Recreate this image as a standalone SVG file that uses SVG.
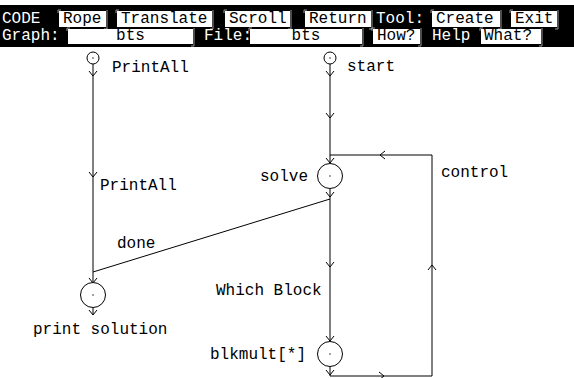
<svg xmlns="http://www.w3.org/2000/svg" xmlns:xlink="http://www.w3.org/1999/xlink" width="574" height="378" viewBox="0 0 574 378">
  <style>
    text { font-family: "Liberation Mono", "DejaVu Sans Mono", monospace; font-size: 16px; }
    .inv { fill: #fff; }
    .ink { fill: #000; }
    .btn { fill: #fff; }
    .brk { fill: none; stroke: #9a9a9a; stroke-width: 1; }
    .edge { fill: none; stroke: #000; stroke-width: 1; }
    .node { fill: #fff; stroke: #000; stroke-width: 1; }
    .dot { fill: #000; }
  </style>
  <defs>
    <!-- open chevron arrowhead, tip at origin, pointing down (+y) -->
    <path id="chev" d="M-4,-5 L0,0 L4,-5" fill="none" stroke="#000" stroke-width="1"/>
  </defs>

  <rect x="0" y="0" width="574" height="378" fill="#fff"/>

  <!-- menu bar -->
  <g id="menubar">
    <rect x="0" y="5" width="574" height="42" fill="#000"/>
    <!-- row 1 -->
    <text class="inv" x="2" y="23">CODE</text>
    <rect class="btn" x="59" y="11" width="47" height="16"/>
    <path class="brk" d="M58,13 V10 H61 M107,10 V29 H104"/>
    <text class="ink" x="63" y="23">Rope</text>
    <rect class="btn" x="117" y="11" width="95" height="16"/>
    <path class="brk" d="M116,13 V10 H119 M213,10 V29 H210"/>
    <text class="ink" x="121" y="23">Translate</text>
    <rect class="btn" x="225" y="11" width="65" height="16"/>
    <path class="brk" d="M224,13 V10 H227 M291,10 V29 H288"/>
    <text class="ink" x="229" y="23">Scroll</text>
    <rect class="btn" x="305" y="11" width="66" height="16"/>
    <path class="brk" d="M304,13 V10 H307 M372,10 V29 H369"/>
    <text class="ink" x="309" y="23">Return</text>
    <text class="inv" x="376" y="23">Tool:</text>
    <rect class="btn" x="432" y="11" width="68" height="16"/>
    <path class="brk" d="M431,13 V10 H434 M501,10 V29 H498"/>
    <text class="ink" x="436" y="23">Create</text>
    <rect class="btn" x="511" y="11" width="46" height="16"/>
    <path class="brk" d="M510,13 V10 H513 M558,10 V29 H555"/>
    <text class="ink" x="515" y="23">Exit</text>
    <!-- row 2 -->
    <text class="inv" x="2" y="40">Graph:</text>
    <rect class="btn" x="68" y="29" width="125" height="15"/>
    <path class="brk" d="M67,31 V28 H70 M194,28 V46 H191"/>
    <text class="ink" x="130.5" y="40" text-anchor="middle">bts</text>
    <text class="inv" x="204" y="40">File:</text>
    <rect class="btn" x="250" y="29" width="112" height="15"/>
    <path class="brk" d="M249,31 V28 H252 M363,28 V46 H360"/>
    <text class="ink" x="306" y="40" text-anchor="middle">bts</text>
    <rect class="btn" x="373" y="29" width="47" height="15"/>
    <path class="brk" d="M372,31 V28 H375 M421,28 V46 H418"/>
    <text class="ink" x="377" y="40">How?</text>
    <text class="inv" x="432" y="40">Help</text>
    <rect class="btn" x="481" y="29" width="60" height="15"/>
    <path class="brk" d="M480,31 V28 H483 M542,28 V46 H539"/>
    <text class="ink" x="484" y="40">What?</text>
  </g>

  <!-- connectors -->
  <g id="connectors">
    <!-- PrintAll entry to print solution -->
    <path class="edge" d="M93,64 V283"/>
    <use xlink:href="#chev" transform="translate(93,76)"/>
    <use xlink:href="#chev" transform="translate(93,177)"/>
    <use xlink:href="#chev" transform="translate(93,283)"/>
    <text class="ink" x="100" y="190">PrintAll</text>
    <!-- print solution exit -->
    <path class="edge" d="M93,308 V315"/>
    <use xlink:href="#chev" transform="translate(93,315)"/>

    <!-- start to solve -->
    <path class="edge" d="M330,64 V163"/>
    <use xlink:href="#chev" transform="translate(330,76)"/>
    <use xlink:href="#chev" transform="translate(330,118)"/>
    <use xlink:href="#chev" transform="translate(330,163)"/>

    <!-- solve to blkmult (Which Block) -->
    <path class="edge" d="M330,189 V341"/>
    <use xlink:href="#chev" transform="translate(330,197)"/>
    <use xlink:href="#chev" transform="translate(330,267)"/>
    <use xlink:href="#chev" transform="translate(330,341)"/>
    <text class="ink" x="216" y="295">Which Block</text>

    <!-- done: solve to print solution -->
    <path class="edge" d="M330,199 L93,272"/>
    <text class="ink" x="117" y="248">done</text>

    <!-- control loop: blkmult back to solve -->
    <path class="edge" d="M330,367 V376 H432 V155 H330"/>
    <use xlink:href="#chev" transform="translate(330,375)"/>
    <use xlink:href="#chev" transform="translate(384,376) rotate(-90)"/>
    <use xlink:href="#chev" transform="translate(432,265) rotate(180)"/>
    <use xlink:href="#chev" transform="translate(380,155) rotate(90)"/>
    <text class="ink" x="441" y="177">control</text>
  </g>

  <!-- nodes -->
  <g id="node-printall">
    <circle class="node" cx="93" cy="58" r="6"/>
    <circle class="dot" cx="93" cy="58" r="0.7"/>
    <text class="ink" x="112" y="72">PrintAll</text>
  </g>
  <g id="node-start">
    <circle class="node" cx="330" cy="58" r="6"/>
    <circle class="dot" cx="330" cy="58" r="0.7"/>
    <text class="ink" x="347" y="71">start</text>
  </g>
  <g id="node-solve">
    <circle class="node" cx="330" cy="176" r="12.5"/>
    <circle class="dot" cx="330" cy="176" r="0.7"/>
    <text class="ink" x="260" y="181">solve</text>
  </g>
  <g id="node-print-solution">
    <circle class="node" cx="93" cy="295" r="12.5"/>
    <circle class="dot" cx="93" cy="295" r="0.7"/>
    <text class="ink" x="33" y="334">print solution</text>
  </g>
  <g id="node-blkmult">
    <circle class="node" cx="330" cy="354" r="12.5"/>
    <circle class="dot" cx="330" cy="354" r="0.7"/>
    <text class="ink" x="210" y="359">blkmult[*]</text>
  </g>
</svg>
